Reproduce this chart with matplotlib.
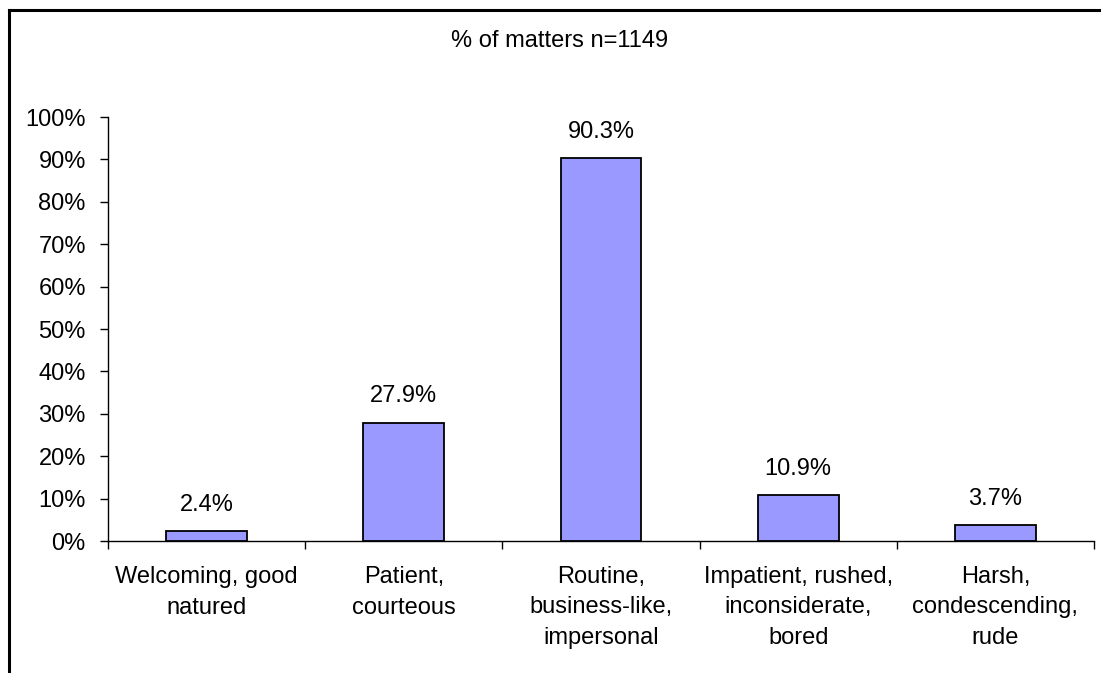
import matplotlib
matplotlib.use("Agg")
import matplotlib.pyplot as plt
from matplotlib.lines import Line2D
from matplotlib.ticker import FuncFormatter, MultipleLocator

categories = [
    "Welcoming, good\nnatured",
    "Patient,\ncourteous",
    "Routine,\nbusiness-like,\nimpersonal",
    "Impatient, rushed,\ninconsiderate,\nbored",
    "Harsh,\ncondescending,\nrude",
]
values = [2.4, 27.9, 90.3, 10.9, 3.7]
title = "% of matters n=1149"

plt.rcParams["font.family"] = ["Liberation Sans", "DejaVu Sans"]
FS = 17

W, H = 1101, 673
fig = plt.figure(figsize=(W / 100, H / 100), dpi=100)
fig.patch.set_facecolor("white")

# plot area in pixel terms
left, right, top, bottom = 108, 1094, 117, 541
ax = fig.add_axes([left / W, 1 - bottom / H, (right - left) / W, (bottom - top) / H])

x = list(range(len(categories)))
bars = ax.bar(x, values, width=0.41, color="#9999FF", edgecolor="black", linewidth=1.3, zorder=3)

for xi, v in zip(x, values):
    ax.annotate(f"{v:.1f}%", xy=(xi, v), xytext=(0, 11), textcoords="offset points",
                ha="center", va="bottom", fontsize=FS, color="black")

ax.set_xlim(-0.5, len(categories) - 0.5)
ax.set_ylim(0, 100)
ax.yaxis.set_major_locator(MultipleLocator(10))
ax.yaxis.set_major_formatter(FuncFormatter(lambda v, p: f"{v:.0f}%"))

# category boundaries carry the x ticks, labels sit at bar centres
ax.set_xticks([i - 0.5 for i in range(len(categories) + 1)])
ax.set_xticklabels([])
ax.set_xticks(x, minor=True)
ax.set_xticklabels(categories, minor=True, fontsize=FS, linespacing=1.5)
ax.tick_params(axis="x", which="major", direction="out", length=6, width=1, color="black")
ax.tick_params(axis="x", which="minor", length=0, pad=18)
ax.tick_params(axis="y", direction="out", length=6, width=1, color="black", labelsize=FS, pad=10)

for s in ["top", "right"]:
    ax.spines[s].set_visible(False)
for s in ["left", "bottom"]:
    ax.spines[s].set_linewidth(1)
    ax.spines[s].set_color("black")

fig.text(560 / W, 1 - 41 / H, title, ha="center", va="center", fontsize=FS)

# outer frame (left and top edges)
fig.add_artist(Line2D([8.5 / W, 8.5 / W], [0, 1 - 9.5 / H], transform=fig.transFigure,
                      color="black", linewidth=2.2))
fig.add_artist(Line2D([8.5 / W, 1], [1 - 9.5 / H, 1 - 9.5 / H], transform=fig.transFigure,
                      color="black", linewidth=2.2))

fig.savefig("out.png", dpi=100, facecolor="white")
